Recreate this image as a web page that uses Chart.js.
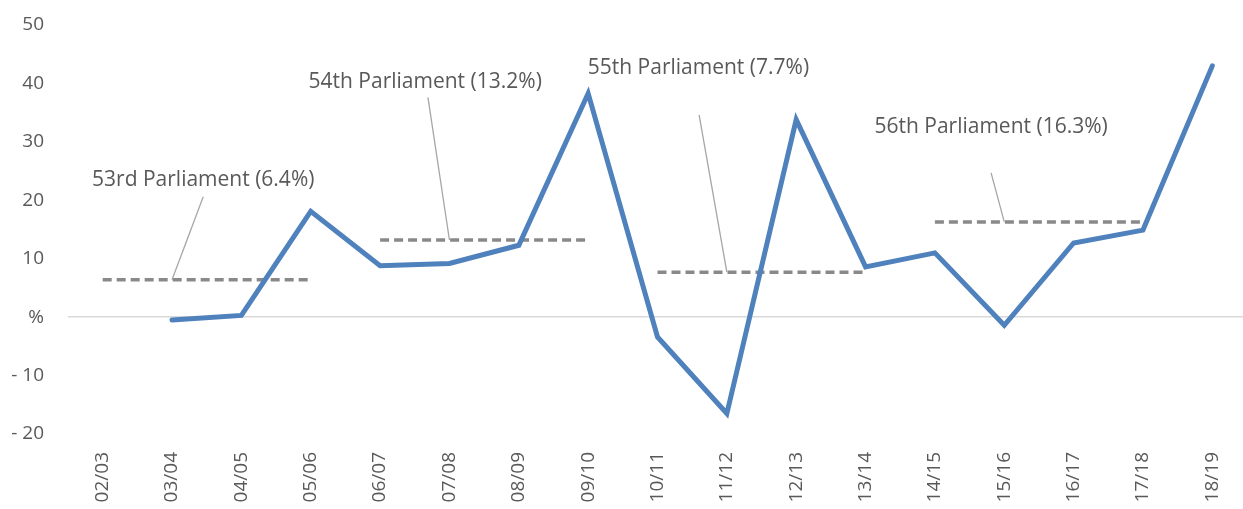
<!DOCTYPE html>
<html>
<head>
<meta charset="utf-8">
<script src="https://cdn.jsdelivr.net/npm/chart.js@4.4.1/dist/chart.umd.min.js"></script>
<style>
html,body{margin:0;padding:0;background:#fff;overflow:hidden;width:1243px;height:509px;}
canvas{display:block;}
</style>
</head>
<body>
<canvas id="c" width="1247" height="509"></canvas>
<script>
const categories = ['02/03','03/04','04/05','05/06','06/07','07/08','08/09','09/10','10/11','11/12','12/13','13/14','14/15','15/16','16/17','17/18','18/19'];
const growth = [null,-0.5,0.3,18.1,8.8,9.2,12.3,38.3,-3.4,-16.5,33.8,8.6,11.0,-1.4,12.7,14.9,43.0];
const parl53 = [6.4,6.4,6.4,6.4,null,null,null,null,null,null,null,null,null,null,null,null,null];
const parl54 = [null,null,null,null,13.2,13.2,13.2,13.2,null,null,null,null,null,null,null,null,null];
const parl55 = [null,null,null,null,null,null,null,null,7.7,7.7,7.7,7.7,null,null,null,null,null];
const parl56 = [null,null,null,null,null,null,null,null,null,null,null,null,16.3,16.3,16.3,16.3,null];
const yTicks = [50,40,30,20,10,0,-10,-20];
const parlLabels = ['53rd Parliament (6.4%)','54th Parliament (13.2%)','55th Parliament (7.7%)','56th Parliament (16.3%)'];
const parlAverages = [6.4,13.2,7.7,16.3];
const parlAnchorCat = [1,5,9,13];

// label placement in data units: [textX, textY, leaderStartX, leaderStartY]
const labelPlacement = [
  [1.45,23.5,1.45,20.6],
  [4.65,40.2,4.69,37.6],
  [8.59,42.6,8.60,34.6],
  [12.81,32.5,12.81,24.7]
];

const FONT = '"Open Sans", Lato, sans-serif';
const TXT = '#595959';

const annotPlugin = {
  id:'annot',
  afterDatasetsDraw(chart){
    const ctx = chart.ctx, xs = chart.scales.x, ys = chart.scales.y;
    ctx.save();
    for(let i=0;i<parlLabels.length;i++){
      const p = labelPlacement[i];
      ctx.strokeStyle = '#a6a6a6';
      ctx.lineWidth = 1.3;
      ctx.beginPath();
      ctx.moveTo(xs.getPixelForValue(p[2]), ys.getPixelForValue(p[3]));
      ctx.lineTo(xs.getPixelForValue(parlAnchorCat[i]), ys.getPixelForValue(parlAverages[i]));
      ctx.stroke();
      ctx.fillStyle = TXT;
      ctx.font = '21px ' + FONT;
      ctx.textAlign = 'center';
      ctx.textBaseline = 'middle';
      ctx.fillText(parlLabels[i], xs.getPixelForValue(p[0]), ys.getPixelForValue(p[1]));
    }
    ctx.restore();
  }
};

function dashed(data){
  return {data, borderColor:'#898989', borderWidth:3.5, borderDash:[9,5], pointRadius:0, fill:false, tension:0, spanGaps:false, order:2};
}

new Chart(document.getElementById('c'), {
  type:'line',
  data:{
    labels:categories,
    datasets:[
      {data:growth, borderColor:'#4f81bd', borderWidth:5, pointRadius:0, tension:0, borderJoinStyle:'miter', borderCapStyle:'round', fill:false, order:1},
      dashed(parl53), dashed(parl54), dashed(parl55), dashed(parl56)
    ]
  },
  options:{
    responsive:false,
    animation:false,
    layout:{padding:{top:25,right:0,left:0,bottom:0}},
    plugins:{legend:{display:false},tooltip:{enabled:false}},
    scales:{
      x:{
        offset:true,
        grid:{display:false,drawTicks:false},
        border:{display:false},
        ticks:{color:TXT,font:{family:FONT,size:19},minRotation:90,maxRotation:90,padding:18,autoSkip:false},
        afterFit(s){ s.height = 75; s.paddingLeft = 0; s.paddingRight = 0; }
      },
      y:{
        min:-20,max:50,
        afterBuildTicks(s){ s.ticks = yTicks.map(v=>({value:v})); },
        grid:{drawTicks:false,lineWidth:1.5,color(ctx){ return ctx.tick && ctx.tick.value===0 ? '#d9d9d9' : 'rgba(0,0,0,0)'; }},
        border:{display:false},
        ticks:{color:TXT,font:{family:FONT,size:19},padding:24,callback(v){ return v===0 ? '%' : (v<0 ? '- '+Math.abs(v) : String(v)); }},
        afterFit(s){ s.width = 68; s.paddingTop = 0; s.paddingBottom = 0; }
      }
    }
  },
  plugins:[annotPlugin]
});
</script>
</body>
</html>
